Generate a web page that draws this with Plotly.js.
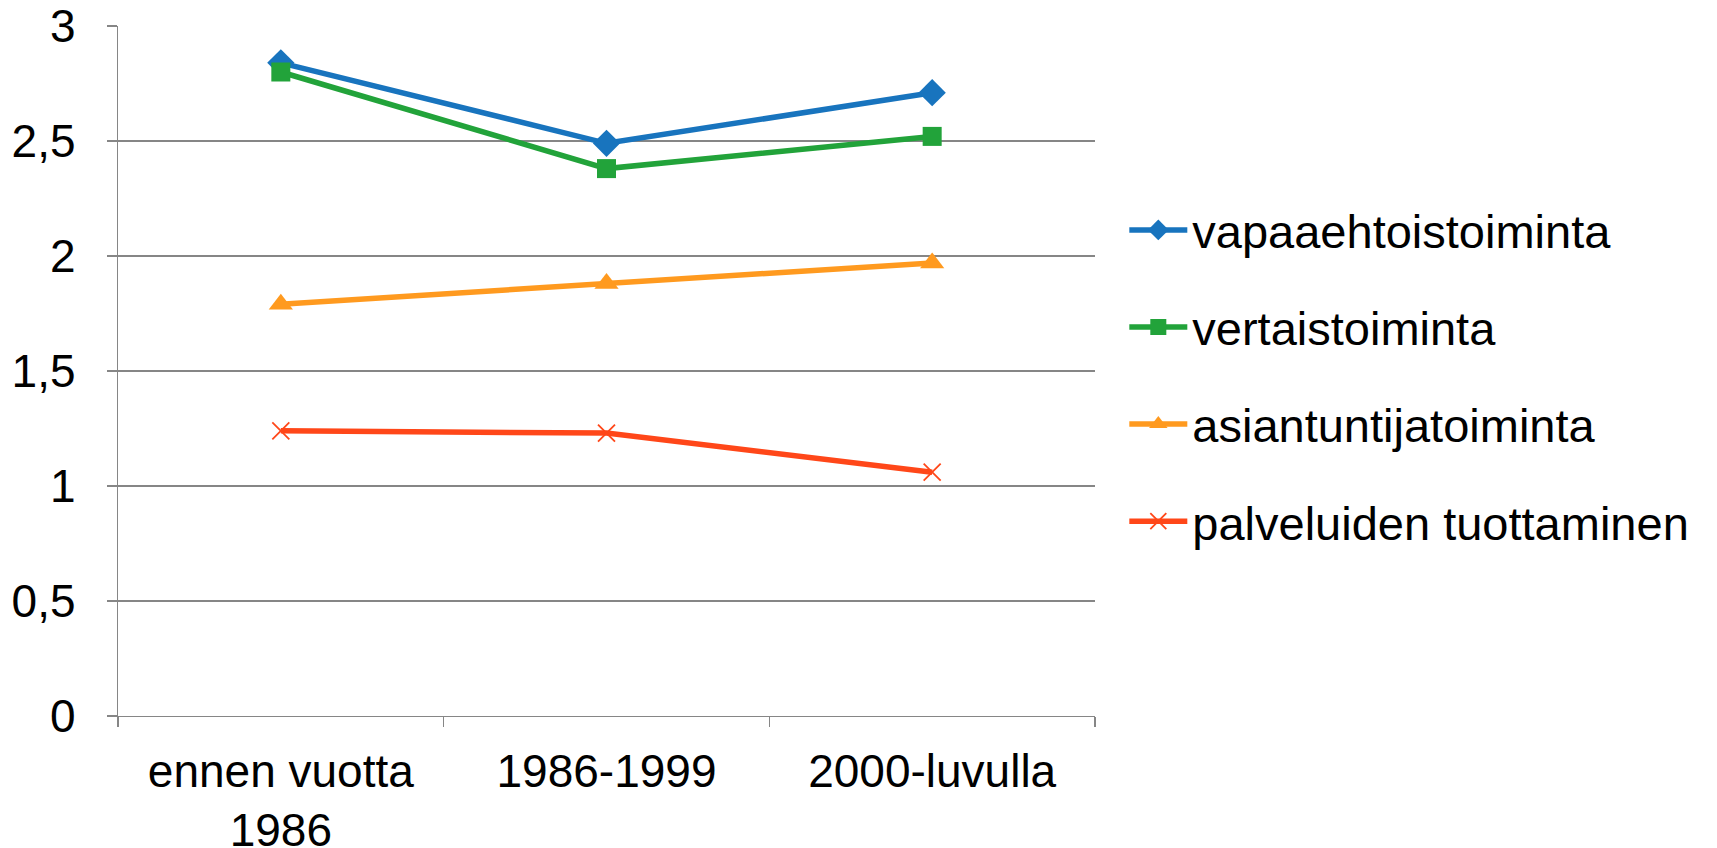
<!DOCTYPE html>
<html>
<head>
<meta charset="utf-8">
<script src="https://cdn.plot.ly/plotly-3.0.1.min.js"></script>
<style>html,body{margin:0;padding:0;background:#fff;}#chart{width:1717px;height:848px;}</style>
</head>
<body>
<div id="chart"></div>
<script>
const categories = ["ennen vuotta<br>1986", "1986-1999", "2000-luvulla"];
const seriesNames = ["vapaaehtoistoiminta", "vertaistoiminta", "asiantuntijatoiminta", "palveluiden tuottaminen"];
const vapaaehtoistoiminta = [2.84, 2.49, 2.71];
const vertaistoiminta = [2.80, 2.38, 2.52];
const asiantuntijatoiminta = [1.79, 1.88, 1.97];
const palveluidenTuottaminen = [1.24, 1.23, 1.06];
const yTicks = [0, 0.5, 1, 1.5, 2, 2.5, 3];

const colors = ["#1874BE", "#22A33A", "#FF9A1F", "#FF4719"];
const symbols = ["diamond", "square", "triangle-up", "x-thin"];
const sizes = [21, 19, 21, 17];
const values = [vapaaehtoistoiminta, vertaistoiminta, asiantuntijatoiminta, palveluidenTuottaminen];

const traces = values.map((v, i) => ({
  type: "scatter",
  mode: "lines+markers",
  x: categories,
  y: v,
  name: seriesNames[i],
  legendgroup: "g" + i,
  line: {color: colors[i], width: 5.5},
  marker: {symbol: symbols[i], size: sizes[i], color: colors[i], line: {color: colors[i], width: i === 3 ? 1.8 : 0}}
}));

const font = {family: "Liberation Sans, Arial, sans-serif", size: 46, color: "#000"};
const legendFont = {family: "Liberation Sans, Arial, sans-serif", size: 47, color: "#000"};
const layout = {
  width: 1717, height: 848,
  margin: {l: 118, r: 622, t: 26, b: 132},
  paper_bgcolor: "#fff", plot_bgcolor: "#fff",
  separators: ", ",
  font: font,
  showlegend: true,
  legend: {x: 1.03, xanchor: "left", y: 0.493, yanchor: "middle", font: legendFont,
           traceorder: "grouped", tracegroupgap: 33, itemwidth: 58, bgcolor: "rgba(0,0,0,0)"},
  xaxis: {type: "category", range: [-0.5, 2.5], showgrid: false, showline: true, linecolor: "#868686", linewidth: 1.3,
          ticks: "outside", tickson: "boundaries", ticklen: 10, tickcolor: "#868686", tickwidth: 1.3,
          tickfont: font, ticklabelstandoff: 14, zeroline: false},
  yaxis: {range: [0, 3], tickvals: yTicks, showgrid: true, gridcolor: "#868686", gridwidth: 1.3,
          showline: true, linecolor: "#868686", linewidth: 1.3, zeroline: false,
          ticks: "outside", ticklen: 10, tickcolor: "#868686", tickwidth: 1.3,
          tickfont: font, ticklabelstandoff: 22}
};
Plotly.newPlot("chart", traces, layout, {staticPlot: true, displayModeBar: false});
</script>
</body>
</html>
